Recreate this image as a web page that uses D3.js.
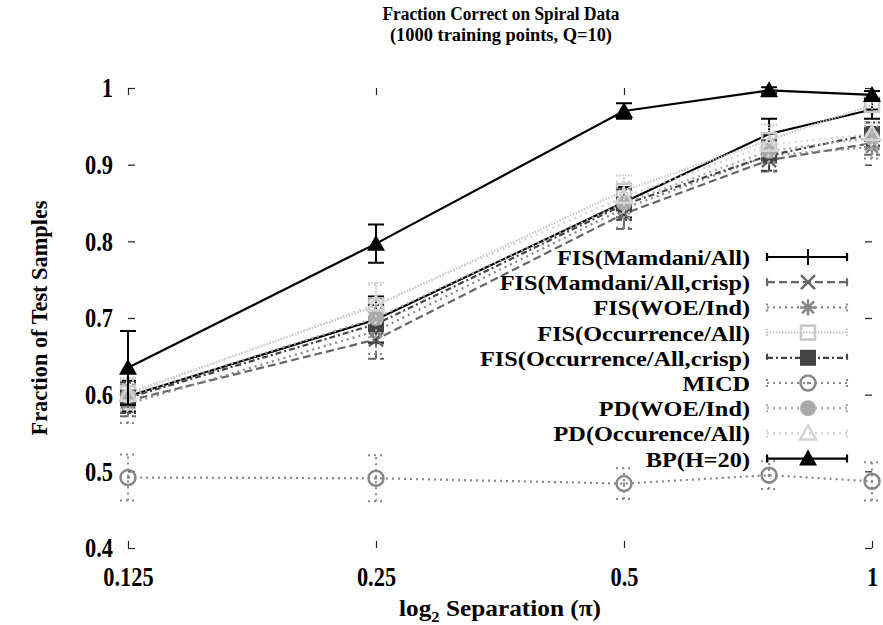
<!DOCTYPE html>
<html>
<head>
<meta charset="utf-8">
<script src="https://cdn.jsdelivr.net/npm/d3@7"></script>
<style>
  body { margin: 0; background: #fff; }
  svg text { font-family: "Liberation Serif", "Times New Roman", "Nimbus Roman", "FreeSerif", "DejaVu Serif", serif; font-weight: bold; fill: #000; }
</style>
</head>
<body>
<svg id="graph" width="883" height="625"></svg>
<script>
// x positions (separation, multiples of pi)
var separations = [0.125, 0.25, 0.5, 0.75, 1];
var xTickValues = [0.125, 0.25, 0.5, 1];
var xTickLabels = ["0.125", "0.25", "0.5", "1"];
var yTickValues = [0.4, 0.5, 0.6, 0.7, 0.8, 0.9, 1];

// series values and error half-widths
var mamdani      = [0.598, 0.698, 0.851, 0.940, 0.972];
var mamdaniErr   = [0.020, 0.030, 0.020, 0.020, 0.012];
var mamdaniCrisp    = [0.592, 0.672, 0.836, 0.906, 0.928];
var mamdaniCrispErr = [0.020, 0.025, 0.020, 0.015, 0.015];
var woeInd       = [0.588, 0.683, 0.843, 0.912, 0.923];
var woeIndErr    = [0.025, 0.030, 0.025, 0.020, 0.015];
var occAll       = [0.602, 0.716, 0.866, 0.932, 0.978];
var occAllErr    = [0.020, 0.030, 0.020, 0.020, 0.010];
var occCrisp     = [0.596, 0.692, 0.848, 0.912, 0.940];
var occCrispErr  = [0.020, 0.025, 0.020, 0.020, 0.015];
var micd         = [0.492, 0.491, 0.484, 0.495, 0.487];
var micdErr      = [0.030, 0.030, 0.020, 0.018, 0.025];
var pdWoe        = [0.598, 0.700, 0.850, 0.918, 0.935];
var pdWoeErr     = [0.020, 0.025, 0.020, 0.015, 0.015];
var pdOcc        = [0.600, 0.718, 0.858, 0.926, 0.940];
var pdOccErr     = [0.020, 0.025, 0.020, 0.015, 0.015];
var bp           = [0.635, 0.797, 0.970, 0.997, 0.991];
var bpErr        = [0.048, 0.025, 0.010, 0.004, 0.005];

var seriesNames = ["FIS(Mamdani/All)", "FIS(Mamdani/All,crisp)", "FIS(WOE/Ind)",
                   "FIS(Occurrence/All)", "FIS(Occurrence/All,crisp)", "MICD",
                   "PD(WOE/Ind)", "PD(Occurence/All)", "BP(H=20)"];
var seriesValues = [mamdani, mamdaniCrisp, woeInd, occAll, occCrisp, micd, pdWoe, pdOcc, bp];
var seriesErrors = [mamdaniErr, mamdaniCrispErr, woeIndErr, occAllErr, occCrispErr, micdErr, pdWoeErr, pdOccErr, bpErr];

// styles per series
var styles = [
    {color: "#000",    dash: null,      marker: "plus"},
    {color: "#666",    dash: "8,4",     marker: "cross"},
    {color: "#888",    dash: "2,4",     marker: "star"},
    {color: "#c8c8c8", dash: "1.5,1.5", marker: "square"},
    {color: "#444",    dash: "6,3,2,3", marker: "fsquare"},
    {color: "#888",    dash: "2,4",     marker: "dotcircle"},
    {color: "#aaa",    dash: "2,4",     marker: "fcircle"},
    {color: "#d4d4d4", dash: "2,4",     marker: "triangle"},
    {color: "#000",    dash: null,      marker: "ftriangle"}
];

const MARGIN = {top: 88, left: 128, right: 11, bottom: 77},
      WIDTH = 883 - MARGIN.left - MARGIN.right,
      HEIGHT = 625 - MARGIN.top - MARGIN.bottom;

var svg = d3.select("#graph");

var xScale = d3.scaleLog().base(2).domain([0.125, 1]).range([MARGIN.left, MARGIN.left + WIDTH]),
    yScale = d3.scaleLinear().domain([0.4, 1]).range([MARGIN.top + HEIGHT, MARGIN.top]);

// squeeze a text horizontally to a given width (the reference font is narrow)
function fitWidth(sel, width)
{
    sel.attr("textLength", width).attr("lengthAdjust", "spacingAndGlyphs");
}

// squeeze texts by a factor of their natural width
function squeeze(sel, k)
{
    sel.each(function() {
        var w = this.getComputedTextLength();
        d3.select(this).attr("textLength", w * k).attr("lengthAdjust", "spacingAndGlyphs");
    });
}

// draws one marker at (x, y)
function drawMarker(g, type, x, y, color)
{
    var m = g.append("g").attr("transform", "translate(" + x + "," + y + ")");
    if (type == "plus")
        m.append("path").attr("d", "M-8,0H8M0,-8V8").attr("stroke", color).attr("stroke-width", 2);
    else if (type == "cross")
        m.append("path").attr("d", "M-7,-7L7,7M-7,7L7,-7").attr("stroke", color).attr("stroke-width", 2.5);
    else if (type == "star")
        m.append("path").attr("d", "M-8,0H8M0,-8V8M-6,-6L6,6M-6,6L6,-6").attr("stroke", color).attr("stroke-width", 2.5);
    else if (type == "square")
        m.append("rect").attr("x", -7).attr("y", -7).attr("width", 14).attr("height", 14)
         .attr("fill", "none").attr("stroke", color).attr("stroke-width", 2.5);
    else if (type == "fsquare")
        m.append("rect").attr("x", -8).attr("y", -8).attr("width", 16).attr("height", 16).attr("fill", color);
    else if (type == "dotcircle") {
        m.append("circle").attr("r", 7.5).attr("fill", "none").attr("stroke", color).attr("stroke-width", 2.5);
        m.append("circle").attr("r", 1.3).attr("fill", color);
    }
    else if (type == "fcircle")
        m.append("circle").attr("r", 8).attr("fill", color);
    else if (type == "triangle")
        m.append("path").attr("d", "M0,-8L8,6H-8Z").attr("fill", "none").attr("stroke", color).attr("stroke-width", 2.5);
    else if (type == "ftriangle")
        m.append("path").attr("d", "M0,-9L9,7H-9Z").attr("fill", color);
}

// axes: gnuplot style inward mirrored ticks, no border
var axisG = svg.append("g").attr("class", "axes");
var tickLen = 7;

var yLeft = d3.axisLeft(yScale).tickValues(yTickValues).tickSizeInner(-tickLen).tickSizeOuter(0)
              .tickFormat(d3.format("")).tickPadding(15);
var yRight = d3.axisRight(yScale).tickValues(yTickValues).tickSizeInner(-tickLen).tickSizeOuter(0).tickFormat("");
var xBottom = d3.axisBottom(xScale).tickValues(xTickValues).tickSizeInner(-tickLen).tickSizeOuter(0)
                .tickFormat((d, i) => xTickLabels[i]).tickPadding(18);
var xTop = d3.axisTop(xScale).tickValues(xTickValues).tickSizeInner(-tickLen).tickSizeOuter(0).tickFormat("");

axisG.append("g").attr("transform", "translate(" + MARGIN.left + ",0)").call(yLeft);
axisG.append("g").attr("transform", "translate(" + (MARGIN.left + WIDTH) + ",0)").call(yRight);
axisG.append("g").attr("transform", "translate(0," + (MARGIN.top + HEIGHT) + ")").call(xBottom);
axisG.append("g").attr("transform", "translate(0," + MARGIN.top + ")").call(xTop);

axisG.selectAll("g").attr("font-family", null).attr("font-size", null);
axisG.selectAll(".domain").remove();
axisG.selectAll(".tick line").attr("stroke", "#222").attr("stroke-width", 1.2);
var tickTexts = axisG.selectAll(".tick text")
     .style("font-size", "28px")
     .attr("fill", "#000");
squeeze(tickTexts, 0.8);

// series
var lineGen = d3.line()
                .x((d, i) => xScale(separations[i]))
                .y(d => yScale(d));

var plot = svg.append("g").attr("class", "series");

for (let i = 0; i < seriesValues.length; i++)
{
    var st = styles[i],
        g = plot.append("g");

    g.append("path")
        .attr("d", lineGen(seriesValues[i]))
        .attr("fill", "none")
        .attr("stroke", st.color)
        .attr("stroke-width", 2.2)
        .attr("stroke-dasharray", st.dash);

    // error bars
    for (let j = 0; j < separations.length; j++)
    {
        var x = xScale(separations[j]),
            y1 = yScale(seriesValues[i][j] - seriesErrors[i][j]),
            y2 = yScale(seriesValues[i][j] + seriesErrors[i][j]);
        g.append("path")
            .attr("d", "M" + x + "," + y1 + "V" + y2 +
                       "M" + (x - 8) + "," + y1 + "H" + (x + 8) +
                       "M" + (x - 8) + "," + y2 + "H" + (x + 8))
            .attr("fill", "none")
            .attr("stroke", st.color)
            .attr("stroke-width", 2)
            .attr("stroke-dasharray", st.dash);
    }

    for (let j = 0; j < separations.length; j++)
        drawMarker(g, st.marker, xScale(separations[j]), yScale(seriesValues[i][j]), st.color);
}

// legend
var legend = svg.append("g").attr("class", "legend");
var legendTop = 257, legendStep = 25.2;

for (let i = 0; i < seriesNames.length; i++)
{
    var st = styles[i],
        ly = legendTop + i * legendStep;

    legend.append("text")
        .attr("class", "legend-text")
        .attr("x", 750)
        .attr("y", ly + 8)
        .attr("text-anchor", "end")
        .style("font-size", "22px")
        .text(seriesNames[i]);

    legend.append("path")
        .attr("d", "M767," + ly + "H847M767," + (ly - 4) + "V" + (ly + 4) + "M847," + (ly - 4) + "V" + (ly + 4))
        .attr("fill", "none")
        .attr("stroke", st.color)
        .attr("stroke-width", 2.2)
        .attr("stroke-dasharray", st.dash);

    drawMarker(legend, st.marker, 808, ly, st.color);
}

// scale all legend texts so the longest one is as wide as in the reference
var legendTexts = legend.selectAll(".legend-text");
var longest = d3.max(legendTexts.nodes(), n => n.getComputedTextLength());
squeeze(legendTexts, 270 / longest);

// titles
fitWidth(svg.append("text")
    .attr("x", 501).attr("y", 20)
    .attr("text-anchor", "middle")
    .style("font-size", "18px")
    .text("Fraction Correct on Spiral Data"), 237);

fitWidth(svg.append("text")
    .attr("x", 501).attr("y", 41)
    .attr("text-anchor", "middle")
    .style("font-size", "18px")
    .text("(1000 training points, Q=10)"), 222);

fitWidth(svg.append("text")
    .attr("transform", "translate(47," + (MARGIN.top + HEIGHT / 2) + ") rotate(-90)")
    .attr("text-anchor", "middle")
    .style("font-size", "23px")
    .text("Fraction of Test Samples"), 235);

var xLabel = svg.append("text")
    .attr("x", 500).attr("y", 616)
    .attr("text-anchor", "middle")
    .style("font-size", "23px");
xLabel.append("tspan").text("log");
xLabel.append("tspan").attr("dy", 6).style("font-size", "15px").text("2");
xLabel.append("tspan").attr("dy", -6).text(" Separation (\u03c0)");
squeeze(xLabel, 202 / xLabel.node().getComputedTextLength());
</script>
</body>
</html>
